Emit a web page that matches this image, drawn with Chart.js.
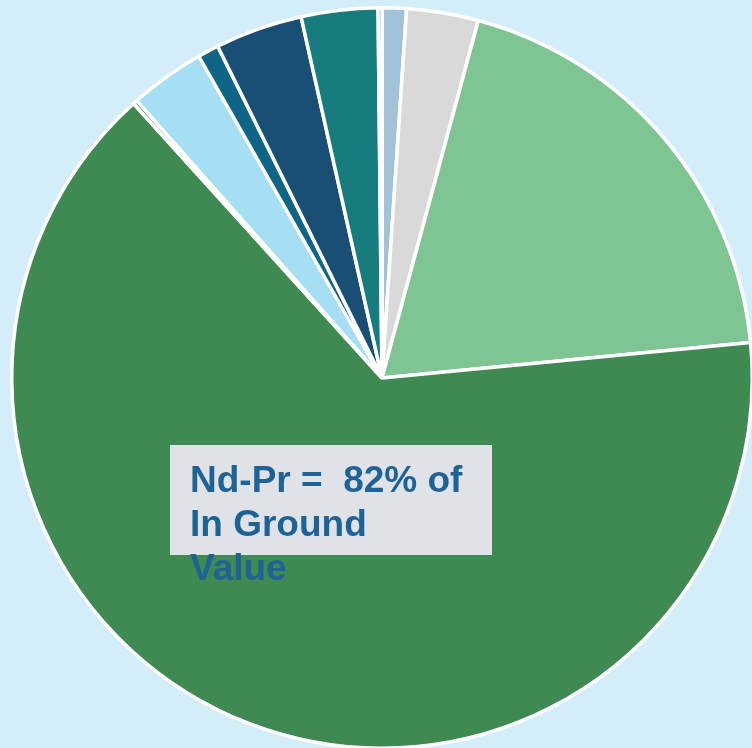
<!DOCTYPE html>
<html>
<head>
<meta charset="utf-8">
<script src="https://cdn.jsdelivr.net/npm/chart.js@4.4.1/dist/chart.umd.min.js"></script>
<style>
  html, body { margin: 0; padding: 0; width: 752px; height: 748px; overflow: hidden; background: #D4EEF9; }
  #wrap { position: absolute; left: 10px; top: 6px; width: 744px; height: 744px; }
</style>
</head>
<body>
<div id="wrap"><canvas id="pie"></canvas></div>
<script>
// In-ground value share by element (%), clockwise from 12 o'clock
const categories = ['Sm', 'La', 'Pr', 'Nd', 'Eu', 'Ce', 'Gd', 'Tb', 'Dy', 'Y'];
const shareValues = [1.06, 3.13, 19.29, 64.83, 0.19, 3.28, 0.92, 3.81, 3.34, 0.17];
const sliceColors = ['#A2C2D8', '#D9D9D9', '#7FC493', '#3F8953', '#3F8953',
                     '#A6DEF3', '#0F6585', '#1A4F75', '#177C7E', '#2E8A83'];
const calloutLines = ['Nd-Pr =  82% of', 'In Ground', 'Value'];

// Grey callout box with bold blue text laid over the large slice
const calloutPlugin = {
  id: 'callout',
  afterDraw(chart) {
    const ctx = chart.ctx;
    const ox = -10, oy = -6; // page -> canvas offset of the wrapper
    ctx.save();
    ctx.fillStyle = '#DFE3E7';
    ctx.fillRect(170 + ox, 445 + oy, 322, 110);
    ctx.fillStyle = '#1F6296';
    ctx.font = 'bold 37px "Liberation Sans", Arial, sans-serif';
    ctx.textBaseline = 'alphabetic';
    calloutLines.forEach((t, i) => ctx.fillText(t, 190 + ox, 492 + oy + i * 44));
    ctx.restore();
  }
};

new Chart(document.getElementById('pie'), {
  type: 'pie',
  data: {
    labels: categories,
    datasets: [{
      data: shareValues,
      backgroundColor: sliceColors,
      borderColor: '#FFFFFF',
      borderWidth: 3.5
    }]
  },
  options: {
    responsive: true,
    maintainAspectRatio: false,
    animation: false,
    layout: { padding: 0 },
    plugins: {
      legend: { display: false },
      tooltip: { enabled: false }
    }
  },
  plugins: [calloutPlugin]
});
</script>
</body>
</html>
